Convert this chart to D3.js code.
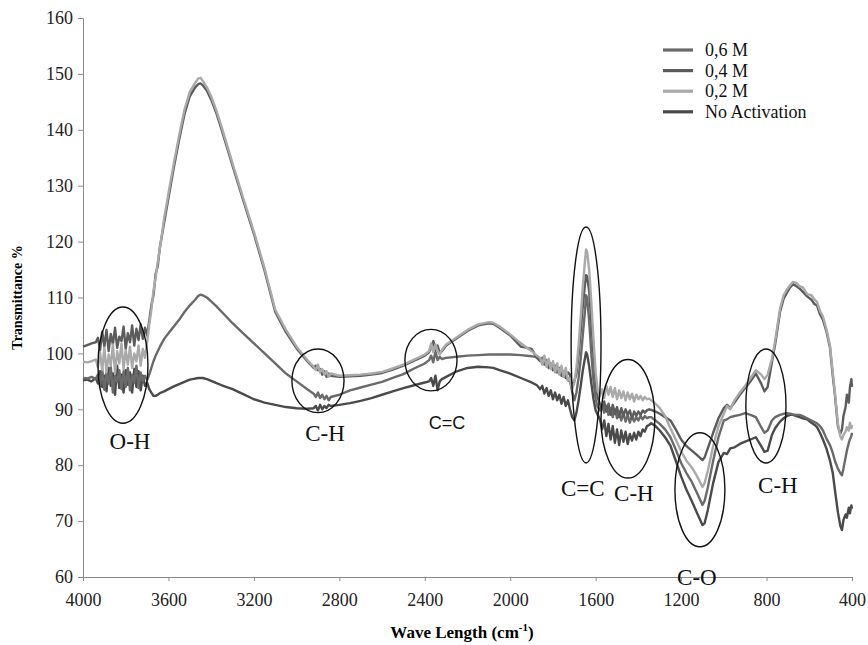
<!DOCTYPE html>
<html>
<head>
<meta charset="utf-8">
<script src="https://cdn.jsdelivr.net/npm/d3@7"></script>
<style>
body { margin: 0; background: #fff; }
svg { display: block; }
text { font-family: "Liberation Serif", "Times New Roman", serif; }
</style>
</head>
<body>
<svg width="868" height="645"></svg>
<script>
// wave numbers (cm-1), shared by all four spectra
var waveNumbers = [
  4000, 3980, 3960, 3940,
  3930, 3920, 3910, 3900, 3890, 3880, 3870, 3860, 3850, 3840, 3830, 3820, 3810, 3800, 3790, 3780, 3770, 3760, 3750, 3740, 3730, 3720, 3710, 3700,
  3690, 3680, 3670, 3660, 3650, 3640,
  3620, 3600, 3575, 3550, 3525, 3500, 3475, 3460, 3450, 3440, 3420, 3400, 3375, 3350, 3300, 3250, 3200, 3150, 3100, 3050, 3000, 2950, 2920,
  2910, 2900, 2890, 2880, 2870, 2860, 2850, 2840,
  2800, 2750, 2700, 2650, 2600, 2550, 2500, 2450, 2400,
  2380, 2370, 2360, 2350, 2340, 2330, 2320,
  2300, 2250, 2200, 2150, 2100, 2080, 2050, 2000, 1950, 1900, 1875,
  1860, 1850, 1840, 1830, 1820, 1810, 1800, 1790, 1780, 1770, 1760, 1750, 1740, 1730,
  1720, 1710, 1700, 1690, 1680, 1670, 1660, 1650, 1645, 1640, 1630, 1620, 1610, 1600, 1590, 1580,
  1570, 1560, 1550, 1540, 1530, 1520, 1510, 1500, 1490, 1480, 1470, 1460, 1450, 1440, 1430, 1420, 1410, 1400, 1390, 1380, 1370, 1360, 1350,
  1340, 1320, 1300, 1275, 1250, 1225, 1200, 1175, 1150, 1125, 1100, 1090, 1075, 1050, 1025, 1000,
  985, 970, 950, 925, 900, 875, 850, 825, 810, 795, 775, 760, 737, 720, 705, 690, 676, 660, 645, 630, 610, 590, 575, 564, 550, 536, 520, 503, 490, 480, 466, 455, 447, 440, 430, 424, 415, 410, 403, 400
];

// 0,2 M
var act02 = [
  98.5, 98.4, 98.6, 98.9,
  97.5, 100.2, 97.0, 101.0, 96.6, 99.8, 97.8, 101.6, 96.4, 100.4, 98.2, 101.8, 97.2, 100.6, 98.0, 101.2, 97.4, 100.0, 98.6, 101.4, 97.8, 100.8, 99.2, 102.0,
  105.0, 107.8, 111.2, 113.6, 116.4, 118.8,
  124.2, 128.6, 134.0, 139.0, 143.6, 146.8, 148.4, 149.2, 149.3, 148.8, 147.6, 146.0, 143.4, 140.4, 134.0, 127.8, 121.8, 115.2, 107.8, 104.2, 101.2, 98.8, 97.6,
  97.0, 98.0, 96.6, 97.2, 96.2, 96.8, 95.8, 96.4,
  96.0, 96.1, 96.2, 96.4, 96.7, 97.3, 98.0, 98.9, 99.8,
  100.4, 101.8, 100.2, 101.6, 100.4, 99.8, 100.6,
  101.6, 102.9, 104.2, 105.2, 105.6, 105.5, 104.8, 103.4, 101.8, 100.4, 99.6,
  99.2, 98.0, 99.6, 97.6, 99.0, 97.2, 98.6, 96.6, 98.2, 96.2, 97.8, 95.8, 97.4, 95.2,
  95.5, 93.5, 94.8, 97.5, 101.5, 106.5, 112.0, 116.6, 118.6, 118.2, 114.8, 109.0, 102.4, 96.6, 93.2, 92.4,
  93.6, 92.0, 94.2, 92.6, 94.0, 92.2, 93.8, 91.8, 93.4, 92.0, 93.2, 91.6, 93.0, 91.8, 92.8, 91.4, 92.6, 91.8, 92.4, 91.6, 92.2, 91.8, 91.9,
  91.6, 91.0, 90.2, 88.8, 86.6, 84.6, 82.5, 80.8, 79.6, 78.0, 76.1, 76.8, 79.0, 83.4, 87.0, 89.2,
  90.6, 90.0, 91.6, 93.0, 94.2, 95.6, 97.0, 96.2, 95.4, 96.2, 99.0, 102.2, 108.0, 110.4, 111.4, 112.2, 112.8, 112.6, 112.0, 111.8, 110.6, 110.4, 109.6, 109.2, 107.6, 106.6, 104.4, 101.4, 96.6, 93.0, 87.4, 85.2, 84.6, 85.4, 86.0, 86.8, 86.2, 87.6, 86.6, 87.2
];

// 0,4 M
var act04 = [
  101.2, 101.5, 101.8, 102.0,
  102.8, 100.6, 103.9, 101.2, 104.2, 100.4, 103.5, 101.6, 104.6, 101.0, 103.0, 102.2, 104.8, 100.8, 103.6, 102.0, 105.0, 101.4, 104.4, 102.4, 105.2, 102.6, 104.6, 103.2,
  105.8, 108.6, 110.4, 114.2, 115.6, 119.0,
  123.4, 127.8, 133.2, 138.2, 142.8, 146.0, 147.6, 148.2, 148.3, 148.0, 147.0, 145.4, 142.9, 139.9, 133.6, 127.4, 121.4, 114.8, 107.4, 103.8, 100.9, 98.6, 97.4,
  97.8, 97.0, 97.2, 96.2, 96.8, 95.8, 96.4, 96.0,
  95.8, 95.9, 96.0, 96.2, 96.5, 97.1, 97.8, 98.7, 99.6,
  100.2, 101.0, 102.2, 100.6, 101.4, 100.0, 100.4,
  101.4, 102.7, 104.0, 105.0, 105.4, 105.3, 104.6, 103.2, 101.2, 100.8, 99.2,
  98.6, 99.2, 98.0, 98.8, 97.4, 98.2, 97.0, 97.8, 96.6, 97.4, 96.0, 96.8, 95.6, 96.6,
  96.2, 94.0, 95.0, 96.4, 99.8, 104.0, 108.6, 112.4, 114.0, 113.8, 111.0, 105.6, 99.8, 94.8, 92.0, 91.0,
  90.2, 91.4, 89.6, 91.0, 89.0, 90.8, 89.2, 90.4, 88.6, 90.2, 88.8, 90.0, 89.0, 89.8, 88.4, 89.6, 88.8, 89.6, 89.0, 89.8, 89.4, 89.8, 90.0,
  89.9, 89.6, 89.2, 88.6, 88.0, 86.4, 84.6, 83.4, 82.6, 81.8, 80.9, 81.4, 83.0, 85.8, 88.4, 90.2,
  90.8, 90.2, 91.2, 92.6, 93.8, 95.0, 96.4, 94.6, 93.2, 94.0, 98.4, 101.6, 107.4, 109.8, 110.8, 111.8, 112.4, 112.0, 111.6, 111.0, 110.2, 109.6, 108.8, 108.6, 107.0, 106.0, 104.0, 101.0, 96.0, 92.6, 87.0, 85.6, 86.4, 88.8, 90.4, 92.6, 91.2, 93.8, 95.4, 94.0
];

// 0,6 M
var act06 = [
  95.6, 95.5, 95.8, 95.4,
  96.2, 94.1, 97.2, 93.5, 96.5, 94.6, 97.6, 93.0, 96.0, 94.9, 97.0, 93.6, 96.8, 94.0, 97.4, 93.4, 96.2, 94.8, 97.8, 93.8, 96.6, 95.0, 96.0, 95.2,
  96.2, 97.4, 98.6, 99.6, 100.4, 101.2,
  102.6, 103.6, 104.8, 106.0, 107.4, 108.6, 109.6, 110.3, 110.5, 110.4, 110.0, 109.3, 108.4, 107.4, 105.4, 103.6, 101.8, 100.0, 98.2, 96.4, 95.0, 93.6, 92.8,
  92.2, 93.0, 92.0, 92.6, 91.8, 92.4, 91.6, 92.2,
  92.6, 93.4, 93.9, 94.4, 94.9, 95.6, 96.3, 97.3, 98.2,
  98.8, 99.6, 98.4, 100.4, 98.8, 99.4, 99.0,
  99.2, 99.4, 99.6, 99.7, 99.8, 99.8, 99.8, 99.8, 99.7, 99.5, 99.3,
  99.0, 98.4, 98.8, 97.8, 98.6, 97.4, 98.2, 97.0, 97.6, 96.4, 97.2, 95.8, 96.6, 95.2,
  95.0, 93.2, 91.6, 93.0, 95.6, 99.0, 103.4, 107.6, 110.4, 110.0, 105.6, 99.8, 95.0, 91.8, 90.4, 89.8,
  90.8, 89.4, 90.6, 89.0, 90.2, 88.6, 90.0, 88.4, 89.6, 88.0, 89.4, 87.8, 89.0, 87.6, 88.8, 87.8, 88.6, 88.0, 88.8, 88.2, 88.8, 88.4, 88.6,
  88.6, 88.0, 87.4, 86.4, 85.0, 82.8, 80.4, 78.6, 77.0, 75.0, 72.9, 73.6, 76.0, 80.8, 85.0, 88.0,
  88.2, 88.6, 88.8, 89.0, 89.3, 89.0, 88.6, 86.8, 85.8, 86.2, 88.0, 88.6, 89.0, 89.2, 89.3, 89.2, 89.1, 89.0, 89.0, 88.8, 88.4, 88.0, 87.7, 87.5, 87.0, 86.2, 84.8, 83.6, 82.2, 80.8, 79.4, 78.6, 78.2, 79.4, 81.4, 82.6, 84.0, 84.6, 85.2, 85.8
];

// No Activation
var noActivation = [
  95.2, 95.3, 95.0, 95.6,
  94.6, 96.8, 94.0, 96.0, 93.2, 97.4, 94.2, 96.4, 92.6, 97.8, 93.8, 96.2, 93.0, 97.0, 94.4, 96.6, 93.0, 97.2, 94.0, 96.8, 93.4, 96.0, 94.2, 94.8,
  93.6, 93.0, 92.4, 92.4, 92.6, 92.9,
  93.2, 93.6, 94.1, 94.5, 94.9, 95.3, 95.5, 95.6, 95.6, 95.6, 95.4, 95.1, 94.7, 94.3, 93.6, 92.7, 91.8, 91.2, 90.8, 90.4, 90.2, 90.1, 90.2,
  90.6, 89.8, 90.8, 90.0, 90.6, 90.2, 90.8, 90.6,
  90.8, 91.1, 91.5, 92.0, 92.6, 93.2, 93.8, 94.3, 94.8,
  95.0, 95.6, 94.2, 96.0, 93.4, 95.0, 95.4,
  95.8, 96.8, 97.4, 97.6, 97.5, 97.4, 97.0, 96.4, 95.6, 94.8, 94.3,
  93.6, 94.2, 92.8, 93.8, 92.4, 93.4, 91.8, 93.0, 91.6, 92.6, 91.0, 92.2, 90.6, 91.6,
  90.0, 88.6, 88.0, 89.4, 91.6, 94.2, 97.0, 99.2, 100.2, 99.8, 97.6, 94.6, 91.8, 89.8, 89.0, 88.2,
  86.4, 88.0, 85.2, 87.4, 84.6, 87.0, 84.0, 86.4, 83.6, 86.2, 84.2, 86.0, 83.8, 85.6, 84.4, 85.8, 84.6, 86.0, 85.2, 86.4, 86.0, 87.0, 87.2,
  87.5, 87.0, 86.2, 85.0, 83.5, 80.8, 78.0, 75.6, 73.6, 71.4, 69.3, 69.6, 72.0, 76.8, 80.6, 82.2,
  82.0, 83.0, 83.2, 83.8, 84.2, 84.6, 85.0, 83.4, 82.4, 82.6, 85.4, 86.6, 87.8, 88.4, 88.8, 89.0, 89.0, 88.8, 88.6, 88.4, 88.2, 87.6, 87.2, 86.8, 85.8, 84.6, 83.0, 80.8, 78.6, 75.6, 71.6, 69.2, 68.4, 70.2, 71.2, 70.6, 72.4, 71.4, 72.8, 72.2
];

var seriesNames = ["0,6 M", "0,4 M", "0,2 M", "No Activation"];
var xTicks = [4000, 3600, 3200, 2800, 2400, 2000, 1600, 1200, 800, 400];
var yTicks = [60, 70, 80, 90, 100, 110, 120, 130, 140, 150, 160];

// absorption bands marked on the spectra (centre and half-size in axis units)
var bandLabels = ["O-H", "C-H", "C=C", "C=C", "C-H", "C-O", "C-H"];
var bandWave = [3813, 2900, 2371, 1645, 1449, 1112, 803];
var bandLevel = [97.9, 95.1, 98.8, 101.5, 88.3, 75.6, 90.6];
var bandHalfWave = [117, 122, 122, 70, 126, 117, 94];
var bandHalfLevel = [10.4, 5.7, 5.5, 21.1, 10.6, 10.2, 10.2];
var labelWave = [3780, 2867, 2296, 1660, 1421, 1126, 747];
var labelLevel = [84.3, 85.6, 87.5, 75.9, 75.0, 60.0, 76.3];

var svg = d3.select("svg"),
    margin = {top: 18, right: 16, bottom: 68, left: 83},
    width = +svg.attr("width") - margin.left - margin.right,
    height = +svg.attr("height") - margin.top - margin.bottom;

var x = d3.scaleLinear().domain([4000, 400]).range([0, width]),
    y = d3.scaleLinear().domain([60, 160]).range([height, 0]);

var g = svg.append("g")
    .attr("transform", "translate(" + margin.left + "," + margin.top + ")");

var series = [
  {name: seriesNames[3], values: noActivation, color: "#4a4a4a"},
  {name: seriesNames[0], values: act06, color: "#6a6a6a"},
  {name: seriesNames[1], values: act04, color: "#5c5c5c"},
  {name: seriesNames[2], values: act02, color: "#a9a9a9"}
];

series.forEach(function(s) {
  if (s.values.length !== waveNumbers.length) throw new Error(s.name + " length " + s.values.length);
});

g.append("g")
    .attr("class", "axis axis--x")
    .attr("transform", "translate(0," + height + ")")
    .call(d3.axisBottom(x).tickValues(xTicks).tickSize(4).tickPadding(12).tickFormat(d3.format("d")));

g.append("g")
    .attr("class", "axis axis--y")
    .call(d3.axisLeft(y).tickValues(yTicks).tickSize(5).tickPadding(5));

svg.selectAll(".axis path, .axis line").attr("stroke", "#8a8a8a");
svg.selectAll(".axis text")
    .attr("fill", "#222")
    .style("font-family", "'Liberation Serif', serif")
    .style("font-size", "18px");

var line = d3.line()
    .x(function(d, i) { return x(waveNumbers[i]); })
    .y(function(d) { return y(d); });

g.selectAll(".spectrum")
    .data(series)
    .enter().append("path")
    .attr("class", "spectrum")
    .attr("fill", "none")
    .attr("stroke", function(d) { return d.color; })
    .attr("stroke-width", 2.4)
    .attr("stroke-linejoin", "round")
    .attr("d", function(d) { return line(d.values); });

// band ellipses and labels
g.selectAll(".band")
    .data(bandLabels)
    .enter().append("ellipse")
    .attr("class", "band")
    .attr("cx", function(d, i) { return x(bandWave[i]); })
    .attr("cy", function(d, i) { return y(bandLevel[i]); })
    .attr("rx", function(d, i) { return Math.abs(x(bandWave[i] + bandHalfWave[i]) - x(bandWave[i])); })
    .attr("ry", function(d, i) { return Math.abs(y(bandLevel[i] + bandHalfLevel[i]) - y(bandLevel[i])); })
    .attr("fill", "none")
    .attr("stroke", "#111")
    .attr("stroke-width", 1.4);

g.selectAll(".band-label")
    .data(bandLabels)
    .enter().append("text")
    .attr("class", "band-label")
    .attr("x", function(d, i) { return x(labelWave[i]); })
    .attr("y", function(d, i) { return y(labelLevel[i]); })
    .attr("text-anchor", "middle")
    .attr("dominant-baseline", "central")
    .style("font-family", function(d, i) { return i === 2 ? "'Liberation Sans', sans-serif" : "'Liberation Serif', serif"; })
    .style("font-size", function(d, i) { return i === 2 ? "18px" : "23px"; })
    .attr("fill", "#111")
    .text(function(d) { return d; });

// axis titles
svg.append("text")
    .attr("transform", "translate(22," + (margin.top + height / 2) + ") rotate(-90)")
    .attr("text-anchor", "middle")
    .style("font-weight", "bold")
    .style("font-size", "14px")
    .text("Transmittance %");

var xTitle = svg.append("text")
    .attr("x", 462)
    .attr("y", 638)
    .attr("text-anchor", "middle")
    .style("font-weight", "bold")
    .style("font-size", "17px");
xTitle.append("tspan").text("Wave Length (cm");
xTitle.append("tspan").attr("dy", -7).style("font-size", "11px").text("-1");
xTitle.append("tspan").attr("dy", 7).text(")");

// legend
var legendOrder = [1, 2, 3, 0];
var legend = svg.append("g").attr("transform", "translate(663,50)");
var item = legend.selectAll(".legend-item")
    .data(legendOrder)
    .enter().append("g")
    .attr("class", "legend-item")
    .attr("transform", function(d, i) { return "translate(0," + i * 20.6 + ")"; });
item.append("line")
    .attr("x1", 0).attr("x2", 30)
    .attr("stroke", function(d) { return series[d].color; })
    .attr("stroke-width", 3.2);
item.append("text")
    .attr("x", 42)
    .attr("dy", 6)
    .style("font-size", "18px")
    .attr("fill", "#111")
    .text(function(d) { return series[d].name; });
</script>
</body>
</html>
